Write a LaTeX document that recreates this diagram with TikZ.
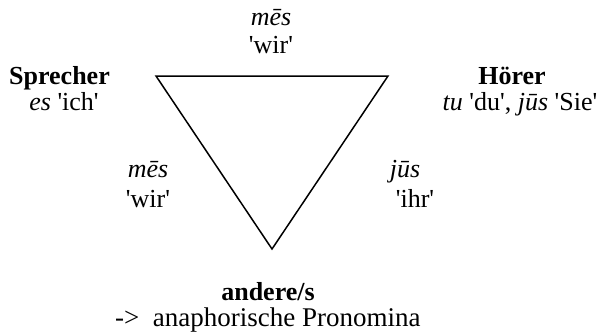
\documentclass[tikz,border=0pt]{standalone}
\usepackage{fontspec}
\setmainfont{Liberation Serif}[Ligatures=TeXOff]
\begin{document}
\begin{tikzpicture}[x=1pt,y=-1pt,
  lbl/.style={anchor=base,inner sep=0pt,font=\fontsize{26}{27}\selectfont},
  tri/.style={line width=1.5pt,line join=miter}]
\useasboundingbox (0,0) rectangle (602,335);
% triangle
\coordinate (A) at (156,76);
\coordinate (B) at (388,76);
\coordinate (C) at (272,249);
\draw[tri] (A) -- (B) -- (C) -- cycle;
% top
\node[lbl] (t1) at (271,25) {\textit{mēs}};
\node[lbl] (t2) at (271,53) {'wir'};
% Sprecher
\node[lbl] (s1) at (59.5,84) {\textbf{Sprecher}};
\node[lbl] (s2) at (64,110) {\textit{es} 'ich'};
% Hörer
\node[lbl] (h1) at (512,84) {\textbf{Hörer}};
\node[lbl] (h2) at (520,110) {\textit{tu} 'du', \textit{jūs} 'Sie'};
% left side
\node[lbl] (l1) at (148,177) {\textit{mēs}};
\node[lbl] (l2) at (148,207) {'wir'};
% right side
\node[lbl] (r1) at (405,177) {\textit{jūs}};
\node[lbl] (r2) at (415,207) {'ihr'};
% bottom
\node[lbl] (b1) at (268,300) {\textbf{andere/s}};
\node[lbl,anchor=base west,font=\fontsize{27}{28}\selectfont] (b2) at (115,326) {->\ \ anaphorische Pronomina};
\end{tikzpicture}
\end{document}
